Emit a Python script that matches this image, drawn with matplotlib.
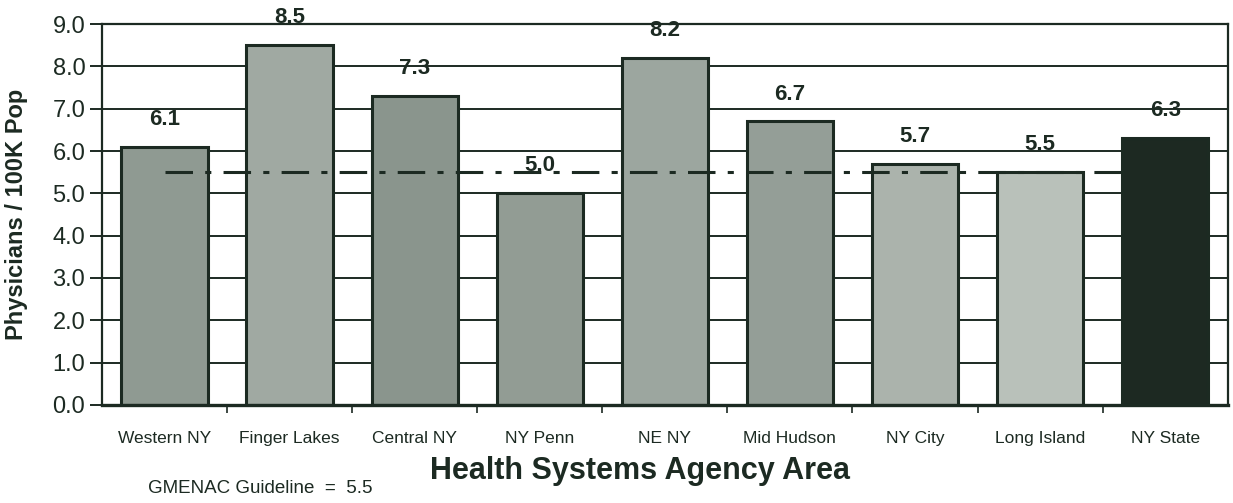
import matplotlib.pyplot as plt
import numpy as np

plt.rcParams['font.family'] = ['Liberation Sans', 'DejaVu Sans']

# data
areas = ['Western NY', 'Finger Lakes', 'Central NY', 'NY Penn', 'NE NY',
         'Mid Hudson', 'NY City', 'Long Island', 'NY State']
rates = [6.1, 8.5, 7.3, 5.0, 8.2, 6.7, 5.7, 5.5, 6.3]
guideline = 5.5
fills = ['#8f9a92', '#a0a9a2', '#8a958d', '#929c94', '#9ca69f',
         '#949e97', '#abb3ac', '#b9c1ba', '#1d2922']
ink = '#1c2a22'

fig = plt.figure(figsize=(12.33, 5.03), dpi=100)
ax = fig.add_axes([0.0827, 0.195, 0.913, 0.757])

x = np.arange(len(areas))
ax.set_axisbelow(True)
ax.yaxis.grid(True, color=ink, linewidth=1.4)
ax.bar(x, rates, width=0.69, color=fills, edgecolor=ink, linewidth=2.2, zorder=2)

# guideline
ax.plot([0, 7.72], [guideline, guideline], color=ink, linewidth=2.2,
        dashes=(9, 4, 2, 4), zorder=3)

for xi, v in zip(x, rates):
    ax.text(xi, v + 0.4, f'{v:.1f}', ha='center', va='bottom',
            fontsize=16, fontweight='bold', color=ink, zorder=4)

ax.set_xlim(-0.5, len(areas) - 0.5)
ax.set_ylim(0, 9)
ax.set_yticks(np.arange(0, 9.1, 1.0))
ax.set_yticklabels([f'{t:.1f}' for t in np.arange(0, 9.1, 1.0)], fontsize=17, color=ink)
ax.set_xticks(x)
ax.set_xticklabels(areas, fontsize=12.5, color=ink)
ax.set_xticks(np.arange(0.5, len(areas) - 1, 1.0), minor=True)
ax.tick_params(axis='x', which='major', length=0, pad=19)
ax.tick_params(axis='x', which='minor', length=6, width=1.2, color=ink)
ax.tick_params(axis='y', length=9, width=1.4, color=ink, pad=3)
for s in ax.spines.values():
    s.set_color(ink)
    s.set_linewidth(1.6)
ax.spines['bottom'].set_linewidth(2.4)

ax.set_xlabel('Health Systems Agency Area', fontsize=22, fontweight='bold',
              color=ink)
ax.xaxis.set_label_coords(0.478, -0.135)
ax.set_ylabel('Physicians / 100K Pop', fontsize=17, fontweight='bold', color=ink)
ax.yaxis.set_label_coords(-0.066, 0.5)
fig.text(0.12, 0.02, 'GMENAC Guideline  =  5.5', fontsize=13.5, color=ink)

fig.savefig('out.png', dpi=100)
